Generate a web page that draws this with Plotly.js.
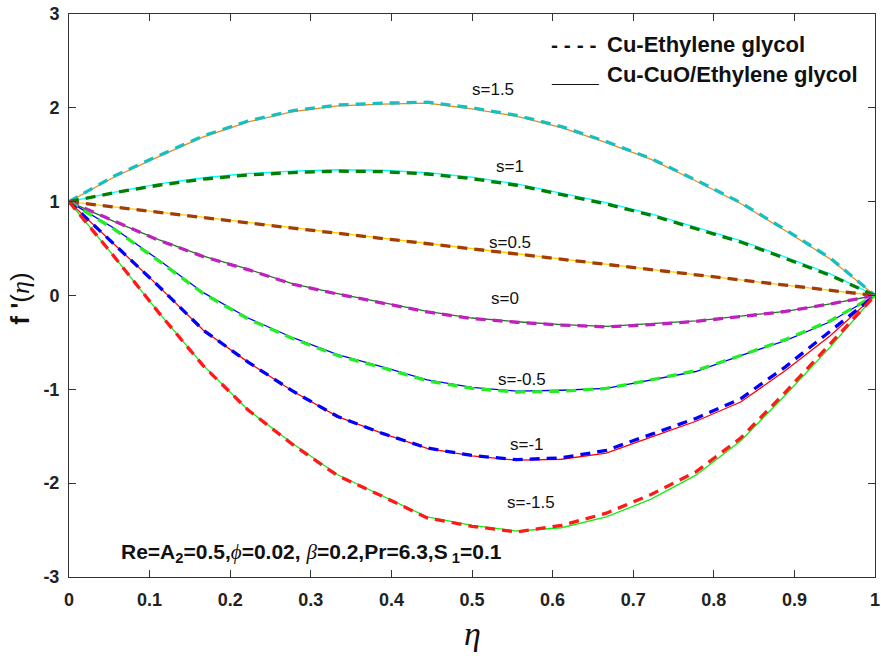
<!DOCTYPE html>
<html>
<head>
<meta charset="utf-8">
<script src="https://cdn.plot.ly/plotly-3.0.1.min.js"></script>
<style>html,body{margin:0;padding:0;background:#fff;}#plot{width:881px;height:656px;}</style>
</head>
<body>
<div id="plot"></div>
<script>
// ---- data ----
const eta = [0,0.0556,0.1111,0.1667,0.2222,0.2778,0.3333,0.3889,0.4444,0.5,0.5556,0.6111,0.6667,0.7222,0.7778,0.8333,0.8889,0.9444,1];

// Cu-CuO/Ethylene glycol (solid)
const hyb_s15  = [1,1.26,1.48,1.69,1.85,1.96,2.02,2.04,2.05,1.99,1.91,1.79,1.63,1.45,1.22,0.98,0.69,0.39,0];
const hyb_s10  = [1,1.10,1.19,1.255,1.30,1.325,1.34,1.335,1.31,1.26,1.19,1.09,0.99,0.87,0.73,0.585,0.41,0.23,0];
const hyb_s05  = [1,0.945,0.89,0.834,0.778,0.722,0.667,0.612,0.556,0.50,0.445,0.389,0.334,0.278,0.222,0.167,0.111,0.056,0];
const hyb_s00  = [1,0.79,0.595,0.42,0.28,0.124,0.02,-0.075,-0.17,-0.24,-0.28,-0.31,-0.33,-0.30,-0.27,-0.22,-0.17,-0.09,0];
const hyb_sm05 = [1,0.72,0.38,0.03,-0.24,-0.45,-0.63,-0.76,-0.90,-0.98,-1.02,-1.01,-0.99,-0.90,-0.81,-0.64,-0.48,-0.28,0];
const hyb_sm10 = [1,0.55,0.10,-0.37,-0.71,-1.02,-1.29,-1.47,-1.63,-1.71,-1.755,-1.745,-1.68,-1.51,-1.34,-1.135,-0.80,-0.43,0];
const hyb_sm15 = [1,0.42,-0.18,-0.745,-1.22,-1.58,-1.91,-2.135,-2.36,-2.45,-2.51,-2.475,-2.36,-2.17,-1.915,-1.55,-1.06,-0.55,0];

// Cu-Ethylene glycol (dashed)
const cu_s15  = [1,1.27,1.49,1.70,1.86,1.97,2.03,2.05,2.06,2.00,1.92,1.80,1.64,1.46,1.23,0.99,0.70,0.40,0];
const cu_s10  = [1,1.095,1.175,1.24,1.285,1.31,1.325,1.32,1.295,1.245,1.175,1.075,0.975,0.855,0.715,0.57,0.395,0.215,0];
const cu_s05  = [1,0.942,0.886,0.83,0.774,0.718,0.663,0.608,0.552,0.497,0.442,0.386,0.331,0.276,0.22,0.165,0.11,0.055,0];
const cu_s00  = [1,0.79,0.59,0.415,0.275,0.12,0.015,-0.08,-0.175,-0.245,-0.285,-0.315,-0.335,-0.31,-0.275,-0.225,-0.17,-0.09,0];
const cu_sm05 = [1,0.71,0.37,0.02,-0.25,-0.46,-0.64,-0.77,-0.91,-0.99,-1.03,-1.02,-0.99,-0.90,-0.80,-0.64,-0.47,-0.27,0];
const cu_sm10 = [1,0.55,0.10,-0.37,-0.71,-1.02,-1.29,-1.47,-1.625,-1.705,-1.75,-1.73,-1.65,-1.48,-1.31,-1.10,-0.76,-0.38,0];
const cu_sm15 = [1,0.42,-0.18,-0.75,-1.22,-1.59,-1.92,-2.14,-2.37,-2.46,-2.52,-2.45,-2.32,-2.12,-1.88,-1.52,-1.03,-0.52,0];

const sLabels = ['s=1.5','s=1','s=0.5','s=0','s=-0.5','s=-1','s=-1.5'];
const xTickVals = [0,0.1,0.2,0.3,0.4,0.5,0.6,0.7,0.8,0.9,1];
const xTickText = ['0','0.1','0.2','0.3','0.4','0.5','0.6','0.7','0.8','0.9','1'];
const yTickVals = [-3,-2,-1,0,1,2,3];
const yTickText = ['-3','-2','-1','0','1','2','3'];
const legendNames = ['Cu-Ethylene glycol','Cu-CuO/Ethylene glycol'];
const serif = "<span style=\"font-family:'Liberation Serif';font-weight:normal\">";
const paramText = 'Re=A<sub>2</sub>=0.5,' + serif + '<i>ϕ</i></span>=0.02, ' + serif + '<i>β</i></span>=0.2,Pr=6.3,S<sub> 1</sub>=0.1';

// ---- styling ----
const hybSeries = [hyb_s15,hyb_s10,hyb_s05,hyb_s00,hyb_sm05,hyb_sm10,hyb_sm15];
const cuSeries  = [cu_s15,cu_s10,cu_s05,cu_s00,cu_sm05,cu_sm10,cu_sm15];
const hybColors = ['#EA8A1E','#00FFFF','#FFCC00','#1E7B1E','#0000FF','#FF0000','#11EE11'];
const cuColors  = ['#17C0C0','#007F00','#A33D07','#C020C0','#22EE22','#0000FF','#FF1A1A'];

const traces = [];
hybSeries.forEach((ys,i)=>traces.push({x:eta,y:ys,type:'scatter',mode:'lines',
  line:{color:hybColors[i],width:1.3},hoverinfo:'skip',showlegend:false}));
cuSeries.forEach((ys,i)=>traces.push({x:eta,y:ys,type:'scatter',mode:'lines',
  line:{color:cuColors[i],width:3.3,dash:'10px,7px'},hoverinfo:'skip',showlegend:false}));

const labelPos = [[0.526,2.20],[0.547,1.38],[0.547,0.56],[0.541,-0.03],[0.562,-0.89],[0.568,-1.59],[0.573,-2.21]];
const annotations = sLabels.map((t,i)=>({x:labelPos[i][0],y:labelPos[i][1],xref:'x',yref:'y',text:t,showarrow:false,
  xanchor:'center',yanchor:'middle',font:{family:'Arial, Liberation Sans',size:17,color:'#111'}}));

const bold = {family:'Arial, Liberation Sans',size:22,color:'#111',weight:'bold'};
annotations.push({x:0.595,y:2.67,xref:'x',yref:'y',text:'- - - -',showarrow:false,xanchor:'left',yanchor:'middle',
  font:{family:'Arial, Liberation Sans',size:21,color:'#111',weight:'bold'}});
annotations.push({x:0.665,y:2.67,xref:'x',yref:'y',text:legendNames[0],showarrow:false,xanchor:'left',yanchor:'middle',font:bold});
annotations.push({x:0.595,y:2.36,xref:'x',yref:'y',text:'____',showarrow:false,xanchor:'left',yanchor:'middle',
  font:{family:'Arial, Liberation Sans',size:21,color:'#111',weight:'bold'}});
annotations.push({x:0.665,y:2.36,xref:'x',yref:'y',text:legendNames[1],showarrow:false,xanchor:'left',yanchor:'middle',font:bold});
annotations.push({x:0.062,y:-2.74,xref:'x',yref:'y',text:paramText,showarrow:false,xanchor:'left',yanchor:'middle',
  font:{family:'Arial, Liberation Sans',size:21,color:'#111',weight:'bold'}});
// axis titles
annotations.push({x:0.5,y:-0.1,xref:'paper',yref:'paper',text:'<i>η</i>',showarrow:false,xanchor:'center',yanchor:'middle',
  font:{family:'Liberation Serif, Times New Roman',size:34,color:'#111'}});
annotations.push({x:-0.061,y:0.494,xref:'paper',yref:'paper',textangle:-90,
  text:"<b>f '</b>(" + serif + "<i>η</i></span>)",showarrow:false,xanchor:'center',yanchor:'middle',
  font:{family:'Arial, Liberation Sans',size:26,color:'#111'}});

const axisCommon = {showgrid:false,zeroline:false,showline:true,linecolor:'#333',linewidth:1,mirror:'ticks',
  ticks:'inside',ticklen:7,tickcolor:'#333',tickwidth:1,
  tickfont:{family:'Arial, Liberation Sans',size:18,color:'#222',weight:'bold'}};

const layout = {
  width:881,height:656,margin:{l:69,r:6,t:14,b:79},
  paper_bgcolor:'#fff',plot_bgcolor:'#fff',showlegend:false,
  xaxis:Object.assign({},axisCommon,{range:[0,1],tickvals:xTickVals,ticktext:xTickText,ticklabelstandoff:6}),
  yaxis:Object.assign({},axisCommon,{range:[-3,3],tickvals:yTickVals,ticktext:yTickText,ticklabelstandoff:5}),
  annotations:annotations
};
Plotly.newPlot('plot',traces,layout,{displayModeBar:false,staticPlot:true});
</script>
</body>
</html>
